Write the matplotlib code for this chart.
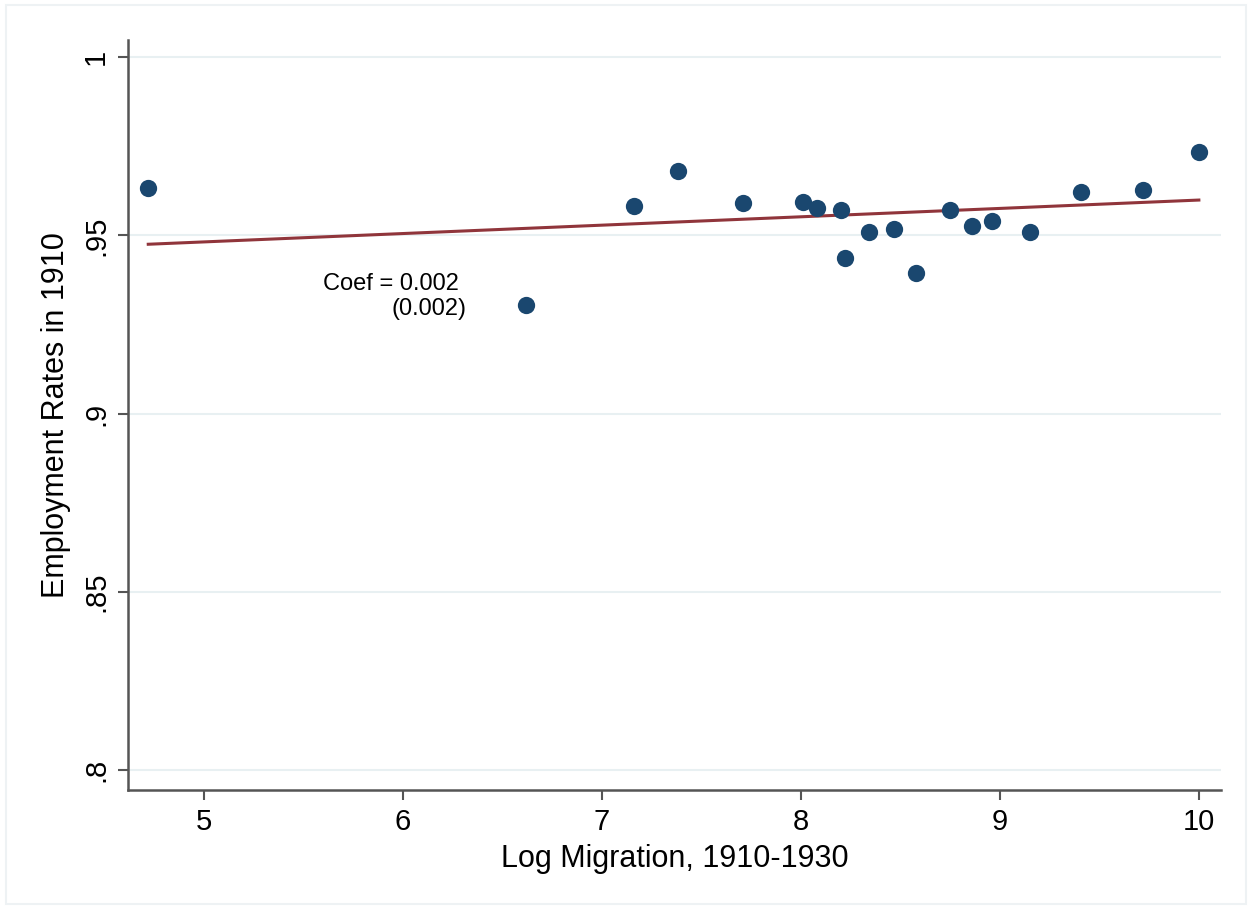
import matplotlib.pyplot as plt
from matplotlib.patches import Rectangle

plt.rcParams['font.family'] = ['Liberation Sans', 'DejaVu Sans']

# --- data ---
log_migration = [4.72, 6.62, 7.16, 7.38, 7.71, 8.01, 8.08, 8.20, 8.22, 8.34,
                 8.47, 8.58, 8.75, 8.86, 8.96, 9.15, 9.41, 9.72, 10.00]
employment = [0.9633, 0.9304, 0.9582, 0.9680, 0.9590, 0.9593, 0.9576, 0.9571,
              0.9436, 0.9509, 0.9518, 0.9394, 0.9571, 0.9526, 0.9540, 0.9509,
              0.9621, 0.9627, 0.9734]
fit_x = [4.72, 10.00]
fit_y = [0.9475, 0.9599]
yticks = [0.8, 0.85, 0.9, 0.95, 1.0]
ytick_labels = ['.8', '.85', '.9', '.95', '1']
xticks = [5, 6, 7, 8, 9, 10]

fig = plt.figure(figsize=(12.52, 9.09), dpi=100)
ax = fig.add_axes([0.1022, 0.1309, 0.8730, 0.8251])

# light outer frame
fig.patches.append(Rectangle((0.005, 0.006), 0.99, 0.988, transform=fig.transFigure,
                             fill=False, edgecolor='#eef2f4', linewidth=1.5))

for yv in yticks:
    ax.axhline(yv, color='#e8f0f2', linewidth=1.5, zorder=0)

ax.plot(fit_x, fit_y, color='#90353b', linewidth=2.2, zorder=2)
ax.scatter(log_migration, employment, s=155, color='#1a476f', zorder=3, linewidths=0)

ax.text(6.28, 0.9363, 'Coef = 0.002', ha='right', va='center', fontsize=17)
ax.text(6.32, 0.9293, '(0.002)', ha='right', va='center', fontsize=17)

ax.set_xlim(4.618, 10.111)
ax.set_ylim(0.7944, 1.0048)
ax.set_xticks(xticks)
ax.set_xticklabels([str(v) for v in xticks])
ax.set_yticks(yticks)
ax.set_yticklabels(ytick_labels, rotation=90, va='center')

for s in ['top', 'right']:
    ax.spines[s].set_visible(False)
for s in ['left', 'bottom']:
    ax.spines[s].set_color('#555555')
    ax.spines[s].set_linewidth(1.8)
ax.tick_params(axis='both', direction='out', length=7, width=1.5, color='#555555',
               labelsize=21, pad=6)

ax.set_xlabel('Log Migration, 1910-1930', fontsize=22, labelpad=6)
ax.set_ylabel('Employment Rates in 1910', fontsize=22, labelpad=8)

fig.savefig('out.png', dpi=100)
